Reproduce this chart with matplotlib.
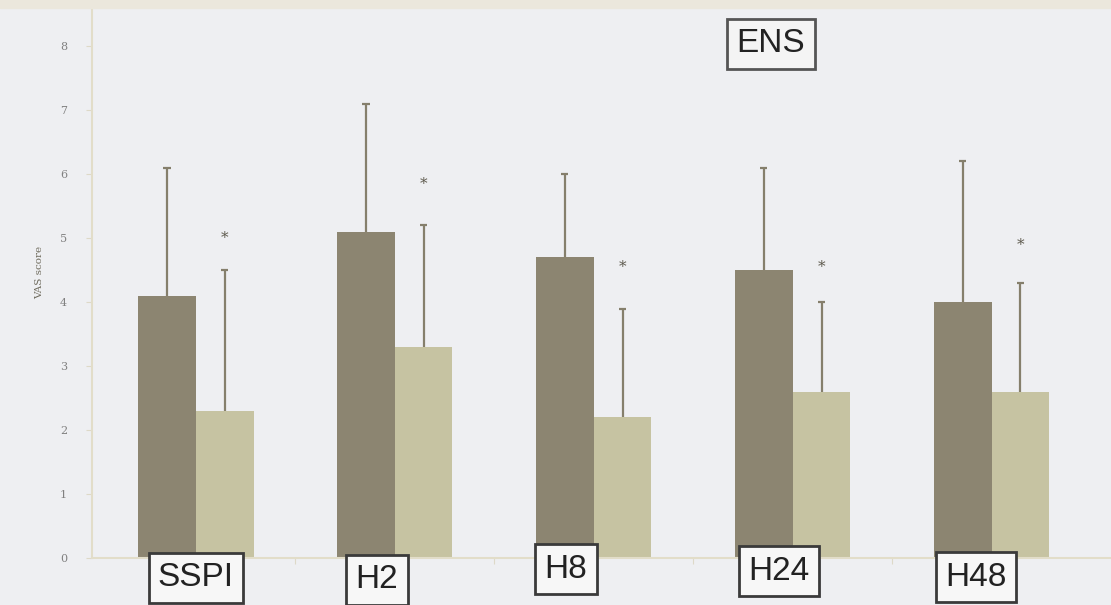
import matplotlib
matplotlib.use("Agg")
import matplotlib.pyplot as plt
import matplotlib.transforms as mtransforms
from matplotlib.patches import Rectangle
import numpy as np

# data
groups = ['SSPI', 'H2', 'H8', 'H24', 'H48']
dark_mean = [4.1, 5.1, 4.7, 4.5, 4.0]
dark_upper = [6.1, 7.1, 6.0, 6.1, 6.2]
light_mean = [2.3, 3.3, 2.2, 2.6, 2.6]
light_upper = [4.5, 5.2, 3.9, 4.0, 4.3]
star_y = [5.0, 5.85, 4.55, 4.55, 4.9]

dark_col = '#8c8571'
light_col = '#c6c3a2'
err_col = '#857f6c'
bg = '#eeeff2'

fig = plt.figure(figsize=(11.11, 6.05), dpi=100, facecolor=bg)
ax = fig.add_axes([92/1111, 1 - 558/605, 1 - 92/1111, 550/605])
ax.set_facecolor(bg)
fig.add_artist(Rectangle((0, 1 - 8/605), 1, 8/605, transform=fig.transFigure,
                         color='#ebe7dc', zorder=5))

x = np.arange(len(groups))
w = 0.29
xd = x - w / 2
xl = x + w / 2

ax.bar(xd, dark_mean, w, color=dark_col, zorder=2)
ax.bar(xl, light_mean, w, color=light_col, zorder=2)

# upper-only error bars with a small cap
ax.vlines(xd, dark_mean, dark_upper, color=err_col, lw=1.6, zorder=1)
ax.hlines(dark_upper, xd - 0.018, xd + 0.018, color=err_col, lw=1.6, zorder=1)
ax.vlines(xl, light_mean, light_upper, color=err_col, lw=1.6, zorder=1)
ax.hlines(light_upper, xl - 0.018, xl + 0.018, color=err_col, lw=1.6, zorder=1)

for xi, sy in zip(xl, star_y):
    ax.text(xi, sy, '*', ha='center', va='center', fontsize=11,
            color='#5e5a4e', family='DejaVu Serif')

ax.set_xlim(-0.522, 4.6)
ax.set_ylim(0, 8.6)
ax.set_yticks(range(9))
ax.set_yticklabels([str(i) for i in range(9)], family='DejaVu Serif',
                   fontsize=8, color='#808080')
ax.tick_params(axis='y', length=4, width=0.8, color='#ddd9c8', pad=14)
ax.set_xticks(x[:-1] + 0.5)
ax.set_xticklabels([])
ax.tick_params(axis='x', length=4, width=0.8, color='#ddd9c8')

for s in ['top', 'right']:
    ax.spines[s].set_visible(False)
for s in ['left', 'bottom']:
    ax.spines[s].set_color('#e2ddc9')
    ax.spines[s].set_linewidth(1.5)

fig.text(40/1111, 1 - 272/605, 'VAS score', rotation=90, ha='center', va='center',
         family='DejaVu Serif', fontsize=7.5, color='#6e6a5c')

# group labels in boxes under the axis
lab_dx = [0.0, -0.09, -0.14, -0.07, -0.08]
lab_y = [578, 580, 569, 571, 577]
trans = mtransforms.blended_transform_factory(ax.transData, fig.transFigure)
for xi, g, dx, py in zip(x, groups, lab_dx, lab_y):
    ax.text(xi + dx, 1 - py/605, g, transform=trans,
            ha='center', va='center', fontsize=24, family='Liberation Sans', color='#222222',
            bbox=dict(boxstyle='square,pad=0.28', facecolor='#f7f7f7',
                      edgecolor='#3a3a3a', linewidth=2), zorder=6)

fig.text(771/1111, 1 - 44/605, 'ENS', ha='center', va='center', fontsize=24,
         family='Liberation Sans', color='#222222',
         bbox=dict(boxstyle='square,pad=0.28', facecolor='#f4f4f4',
                   edgecolor='#555555', linewidth=2))

fig.savefig('out.png', dpi=100, facecolor=bg)
